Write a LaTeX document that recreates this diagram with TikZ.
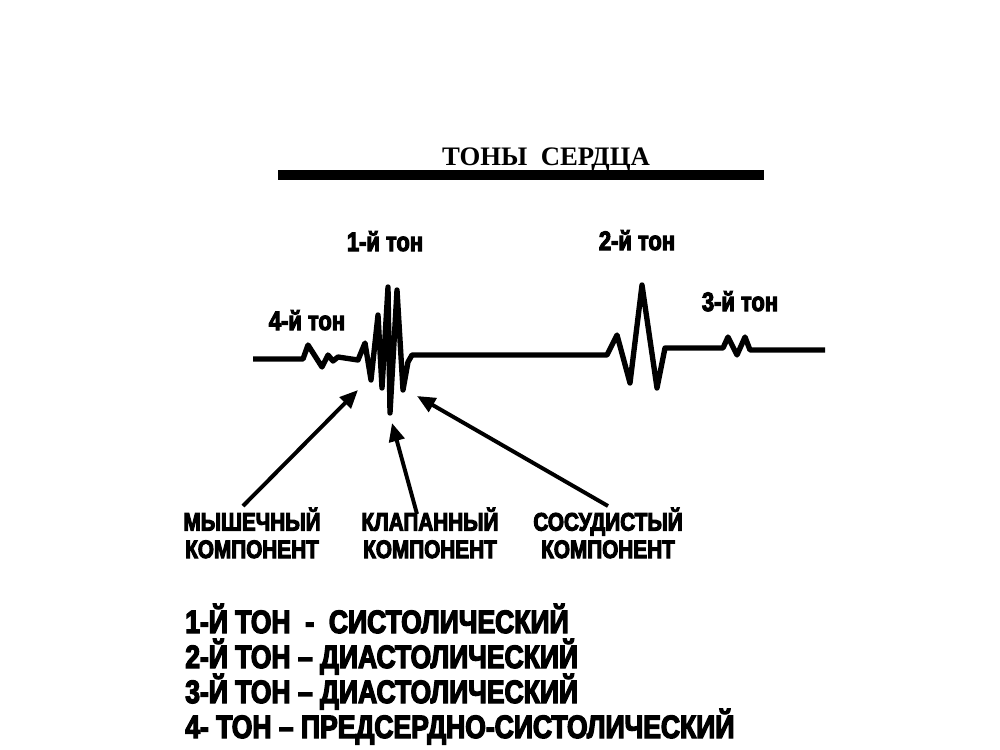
\documentclass[tikz,border=0pt]{standalone}
\usepackage{fontspec}
\setmainfont{Liberation Serif}
\newfontfamily\heavyfont[FakeStretch=0.82,FakeBold=4]{Liberation Sans Bold}
\usetikzlibrary{positioning,arrows.meta,calc}

\begin{document}
\begin{tikzpicture}[x=0.025cm,y=-0.025cm,
    wave/.style={line width=3.8pt,line join=round},
    arr/.style={line width=2.8pt,-{Triangle[length=13pt,width=11pt]}},
    tone/.style={font=\heavyfont\fontsize{19}{19}\selectfont,anchor=base,inner sep=1pt},
    comp/.style={font=\heavyfont\fontsize{18}{19.5}\selectfont,align=center,anchor=north,inner sep=1pt},
    item/.style={font=\heavyfont\fontsize{23}{23}\selectfont,anchor=base west,inner sep=0pt}]
    \useasboundingbox (0,0) rectangle (1000,750);

    % title
    \node[font=\bfseries\fontsize{19}{19}\selectfont,anchor=base] (title) at (546,165) {ТОНЫ\ \ СЕРДЦА};
    \draw[line width=7pt] (278,175) -- (764,175);

    % tone labels
    \node[tone] (t1) at (385,251) {1-й тон};
    \node[tone] (t2) at (637,250) {2-й тон};
    \node[tone] (t3) at (740,311) {3-й тон};
    \node[tone] (t4) at (307,330) {4-й тон};

    % heart sound trace
    \draw[wave] (253,359) -- (303,359) -- (308,345) -- (322,367) -- (328,355)
        -- (333,361) -- (338,357) -- (358,360) -- (365,343) -- (371,380)
        -- (378,315) -- (382,388) -- (388,287) -- (390,413) -- (397,290)
        -- (403,390) -- (408,362) -- (412,355) -- (607,355) -- (617,335)
        -- (630,383) -- (642,285) -- (657,388) -- (665,348) -- (723,348)
        -- (728,337) -- (737,355) -- (745,337) -- (750,350) -- (825,350);
    \coordinate (muscTip) at (358,390);
    \coordinate (valvTip) at (392,423);
    \coordinate (vascTip) at (417,396);

    % components
    \node[comp] (musc) at (252,506) {МЫШЕЧНЫЙ\\КОМПОНЕНТ};
    \node[comp] (valv) at (430,506) {КЛАПАННЫЙ\\КОМПОНЕНТ};
    \node[comp] (vasc) at (608,506) {СОСУДИСТЫЙ\\КОМПОНЕНТ};

    \draw[arr] ($(musc.north)+(-9,0)$) -- (muscTip);
    \draw[arr] ($(valv.north)+(-13,8)$) -- (valvTip);
    \draw[arr] (vasc.north) -- (vascTip);

    % legend
    \node[item] (l1) at (185,633) {1-Й ТОН\ \ -\ \ СИСТОЛИЧЕСКИЙ};
    \node[item] (l2) at (185,668) {2-Й ТОН – ДИАСТОЛИЧЕСКИЙ};
    \node[item] (l3) at (185,703) {3-Й ТОН – ДИАСТОЛИЧЕСКИЙ};
    \node[item] (l4) at (185,738) {4- ТОН – ПРЕДСЕРДНО-СИСТОЛИЧЕСКИЙ};
\end{tikzpicture}
\end{document}
